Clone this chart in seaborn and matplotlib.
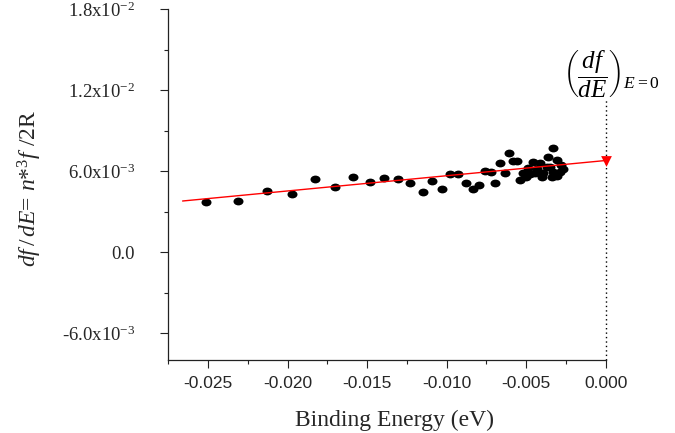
import numpy as np
import pandas as pd
import matplotlib
matplotlib.use("Agg")
import matplotlib.pyplot as plt
from matplotlib.path import Path
from matplotlib.ticker import FixedLocator, MultipleLocator
import seaborn as sns

# Measured oscillator-strength density vs binding energy
energy = [-0.0251, -0.0231, -0.02131, -0.01972, -0.01829, -0.01703, -0.01588,
          -0.01483, -0.01391, -0.01305, -0.01231, -0.01148, -0.01091, -0.01032,
          -0.0098, -0.00928, -0.00881, -0.00837, -0.00798, -0.0076, -0.00724,
          -0.00697, -0.00666, -0.00634, -0.00607, -0.00581, -0.00555, -0.0054,
          -0.00519, -0.00488, -0.00456, -0.00445, -0.00414, -0.00393, -0.00498,
          -0.00362, -0.00351, -0.0033, -0.00309, -0.0033, -0.00288, -0.00278,
          -0.00403, -0.0034, -0.00372, -0.00433, -0.00307, -0.00477, -0.00269]
dfde = [0.00370, 0.00380, 0.00456, 0.00434, 0.00543, 0.00486, 0.00560,
        0.00521, 0.00550, 0.00543, 0.00511, 0.00449, 0.00530, 0.00469,
        0.00580, 0.00578, 0.00511, 0.00467, 0.00499, 0.00602, 0.00593,
        0.00516, 0.00659, 0.00585, 0.00739, 0.00678, 0.00678, 0.00532,
        0.00585, 0.00622, 0.00671, 0.00585, 0.00661, 0.00585, 0.00560,
        0.00704, 0.00634, 0.00770, 0.00684, 0.00597, 0.00597, 0.00647,
        0.00560, 0.00560, 0.00634, 0.00617, 0.00565, 0.00580, 0.00617]

# Linear fit extrapolated to the series limit E = 0
fit_x = [-0.0266, 0.0]
fit_y = [0.0038, 0.0068]
limit_x = [0.0]
limit_y = [0.0068]

y_ticks = [-0.006, 0.0, 0.006, 0.012, 0.018]
y_tick_labels = [r"-6.0x10$^{-3}$", "0.0", r"6.0x10$^{-3}$",
                 r"1.2x10$^{-2}$", r"1.8x10$^{-2}$"]
x_ticks = [-0.025, -0.020, -0.015, -0.010, -0.005, 0.000]
x_tick_labels = ["-0.025", "-0.020", "-0.015", "-0.010", "-0.005", "0.000"]

sns.set_style("ticks")
plt.rcParams["font.family"] = ["Liberation Serif", "DejaVu Serif"]
plt.rcParams["mathtext.fontset"] = "custom"
plt.rcParams["mathtext.rm"] = "Liberation Serif"
plt.rcParams["mathtext.it"] = "Liberation Serif:italic"
plt.rcParams["mathtext.bf"] = "Liberation Serif:bold"

fig = plt.figure(figsize=(6.75, 4.33), dpi=100)
ax = fig.add_axes([0.2493, 0.1679, 0.648, 0.8106])

# Slightly flattened ellipse marker
circ = Path.unit_circle()
ellipse = Path(circ.vertices * np.array([1.0, 0.78]), circ.codes)

df = pd.DataFrame({"E": energy, "dfdE": dfde})
sns.scatterplot(data=df, x="E", y="dfdE", marker=ellipse, s=52, color="black",
                edgecolor="black", linewidth=0, ax=ax, zorder=3)
sns.lineplot(x=fit_x, y=fit_y, color="#ff0000", linewidth=1.0, ax=ax, zorder=4)
sns.scatterplot(x=limit_x, y=limit_y, marker="v", s=60, color="#ff0000",
                edgecolor="#ff0000", linewidth=0, ax=ax, zorder=5, clip_on=False)

# Dotted guide at E = 0
ax.plot([0.0, 0.0], [-0.008, 0.0113], color="black", linestyle=(0, (1, 2.2)),
        linewidth=1.0, clip_on=False, zorder=2)
ax.text(0.00036, 0.0132, r"$\left(\dfrac{df}{dE}\right)_{E=0}$", fontsize=18,
        ha="center", va="center", color="black")

ax.set_xlim(-0.0275, 0.0)
ax.set_ylim(-0.008, 0.018)
ax.xaxis.set_major_locator(FixedLocator(x_ticks))
ax.set_xticklabels(x_tick_labels, family="Liberation Sans", fontsize=12.5)
ax.xaxis.set_minor_locator(MultipleLocator(0.0025))
ax.yaxis.set_major_locator(FixedLocator(y_ticks))
ax.set_yticklabels(y_tick_labels, fontsize=13.5)
ax.yaxis.set_minor_locator(MultipleLocator(0.003))

ax.tick_params(axis="both", which="major", direction="out", length=6,
               width=0.8, color="#222222")
ax.tick_params(axis="both", which="minor", direction="out", length=3,
               width=0.8, color="#222222")
ax.tick_params(axis="y", which="major", pad=18)
ax.tick_params(axis="x", which="major", pad=5)

sns.despine(ax=ax)
for s in ("left", "bottom"):
    ax.spines[s].set_color("#222222")
    ax.spines[s].set_linewidth(0.9)

ax.set_xlabel("Binding Energy (eV)", fontsize=17)
ax.xaxis.set_label_coords(0.518, -0.14)
ax.xaxis.label.set_va("top")
ax.set_ylabel(r"$df\,/\,dE$= $n$*$^3$$f$ /2R", fontsize=17)
ax.yaxis.set_label_coords(-0.285, 0.491)

fig.savefig("out.png", dpi=100)
